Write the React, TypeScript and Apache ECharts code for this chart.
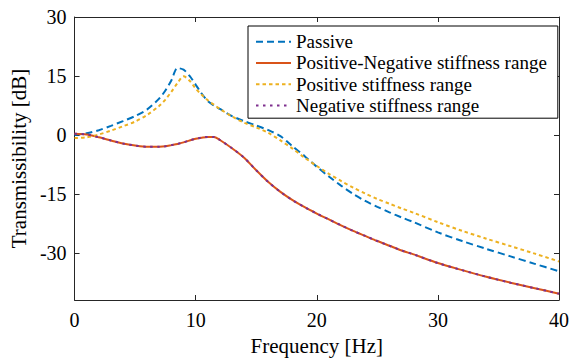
import React, { useEffect, useRef } from "react";
import * as echarts from "echarts";

const freq = [0, 1, 2, 3, 4, 5, 6, 7, 7.5, 8, 8.5, 9, 9.5, 10, 10.5, 11, 11.5, 12, 13, 14, 15, 16, 17, 18, 19, 20, 21, 22, 23, 24, 25, 26, 27, 28, 30, 32, 34, 36, 38, 40];

const passive = [0, 0.4, 1.2, 2.3, 3.5, 4.8, 6.5, 9.3, 11.3, 13.9, 17.0, 16.6, 15.0, 12.8, 10.5, 8.6, 7.5, 6.6, 4.8, 3.5, 2.4, 1.2, -0.3, -2.9, -5.4, -8.1, -10.6, -12.9, -15.0, -16.8, -18.3, -19.7, -21.0, -22.2, -24.8, -27.0, -29.0, -30.9, -32.8, -34.7];

const posNeg = [0.3, 0.1, -0.6, -1.4, -2.2, -2.7, -3.0, -3.0, -2.9, -2.6, -2.3, -1.9, -1.4, -1.0, -0.7, -0.5, -0.5, -1.3, -3.4, -5.8, -9.0, -12.0, -14.5, -16.6, -18.4, -20.0, -21.5, -23.0, -24.4, -25.7, -27.0, -28.2, -29.4, -30.4, -32.6, -34.4, -36.1, -37.6, -39.0, -40.4];

const positive = [-0.8, -0.6, 0.1, 1.1, 2.2, 3.4, 5.1, 7.4, 9.0, 11.0, 13.2, 14.9, 13.8, 11.8, 10.2, 8.8, 7.7, 6.6, 4.7, 3.1, 1.9, 0.5, -1.4, -3.5, -5.8, -7.9, -9.9, -11.7, -13.4, -14.9, -16.3, -17.5, -18.7, -19.8, -22.2, -24.4, -26.4, -28.3, -30.2, -32.2];

const negative = [0.3, 0.1, -0.6, -1.4, -2.2, -2.7, -3.0, -3.0, -2.9, -2.6, -2.3, -1.9, -1.4, -1.0, -0.7, -0.5, -0.5, -1.3, -3.4, -5.8, -9.0, -12.0, -14.5, -16.6, -18.4, -20.0, -21.5, -23.0, -24.4, -25.7, -27.0, -28.2, -29.4, -30.4, -32.6, -34.4, -36.1, -37.6, -39.0, -40.4];

const seriesNames = ["Passive", "Positive-Negative stiffness range", "Positive stiffness range", "Negative stiffness range"];
const yTicks = [-30, -15, 0, 15, 30];

const FONT = "Liberation Serif";
const AX = "#262626";

const pairs = (ys: number[]) => freq.map((x, i) => [x, ys[i]]);

const tickFont = { fontFamily: FONT, fontSize: 20, color: "#000", fontWeight: "normal" as const };
const nameFont = { fontFamily: FONT, fontSize: 21, color: "#000", fontWeight: "normal" as const };

export default function App() {
  const ref = useRef<HTMLDivElement>(null);
  useEffect(() => {
    if (!ref.current) return;
    const chart = echarts.init(ref.current, undefined, { renderer: "svg" });
    const xCommon = {
      type: "value" as const,
      min: 0,
      max: 40,
      interval: 10,
      splitLine: { show: false },
      axisLine: { show: true, onZero: false, lineStyle: { color: AX, width: 1 } },
      axisTick: { show: true, inside: true, length: 5, lineStyle: { color: AX } },
    };
    const yCommon = {
      type: "value" as const,
      min: -42,
      max: 30,
      splitLine: { show: false },
      axisLine: { show: true, onZero: false, lineStyle: { color: AX, width: 1 } },
      axisTick: { show: true, inside: true, length: 5, customValues: yTicks, lineStyle: { color: AX } },
    };
    chart.setOption({
      animation: false,
      backgroundColor: "#fff",
      textStyle: { fontFamily: FONT },
      grid: { left: 68, right: 14, top: 17, bottom: 57, containLabel: false },
      legend: {
        orient: "vertical",
        left: 248,
        top: 26,
        padding: [5, 11, 2, 7],
        itemGap: 0,
        itemWidth: 35,
        itemHeight: 14,
        borderColor: "#000",
        borderWidth: 1,
        backgroundColor: "#fff",
        borderRadius: 0,
        itemStyle: { opacity: 0, color: "rgba(0,0,0,0)", borderWidth: 0 },
        textStyle: { fontFamily: FONT, fontSize: 19, color: "#000", lineHeight: 21.3 },
        data: seriesNames,
      },
      xAxis: [
        {
          ...xCommon,
          position: "bottom",
          name: "Frequency [Hz]",
          nameLocation: "middle",
          nameGap: 35,
          nameTextStyle: nameFont,
          axisLabel: { show: true, margin: 10, ...tickFont, showMinLabel: true, showMaxLabel: true },
        },
        { ...xCommon, position: "top", axisLabel: { show: false } },
      ],
      yAxis: [
        {
          ...yCommon,
          position: "left",
          name: "Transmissibility [dB]",
          nameLocation: "middle",
          nameGap: 38,
          nameTextStyle: nameFont,
          axisLabel: { show: true, margin: 8, customValues: yTicks, ...tickFont },
        },
        { ...yCommon, position: "right", axisLabel: { show: false } },
      ],
      series: [
        {
          name: seriesNames[0],
          type: "line",
          data: pairs(passive),
          symbol: "none",
          smooth: 0.3,
          color: "#0072BD",
          lineStyle: { width: 2, type: [7, 4], color: "#0072BD" },
          z: 2,
        },
        {
          name: seriesNames[1],
          type: "line",
          data: pairs(posNeg),
          symbol: "none",
          smooth: 0.3,
          color: "#D95319",
          lineStyle: { width: 2, type: "solid", color: "#D95319" },
          z: 3,
        },
        {
          name: seriesNames[2],
          type: "line",
          data: pairs(positive),
          symbol: "none",
          smooth: 0.3,
          color: "#EDB120",
          lineStyle: { width: 2, type: [3.5, 3], color: "#EDB120" },
          z: 4,
        },
        {
          name: seriesNames[3],
          type: "line",
          data: pairs(negative),
          symbol: "none",
          smooth: 0.3,
          color: "#7E2F8E",
          lineStyle: { width: 2, type: [2.5, 4.5], color: "#7E2F8E" },
          z: 5,
        },
      ],
    });
    return () => chart.dispose();
  }, []);
  return <div ref={ref} style={{ position: "absolute", left: 0, top: 0, width: 573, height: 361, background: "#fff" }} />;
}
